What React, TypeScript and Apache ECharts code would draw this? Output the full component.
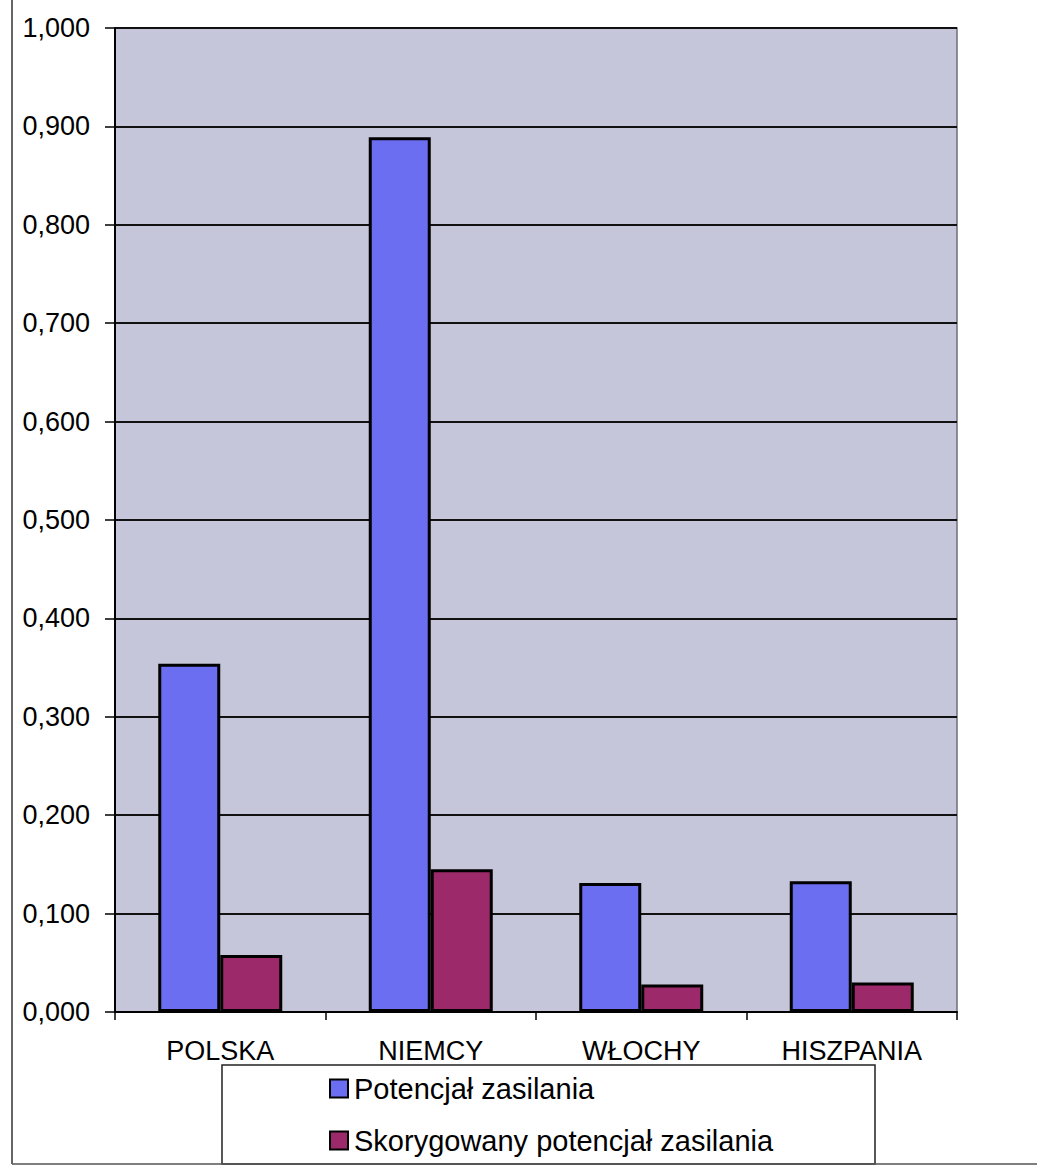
import React, { useEffect, useRef } from "react";
import * as echarts from "echarts";

const categories = ["POLSKA", "NIEMCY", "WŁOCHY", "HISZPANIA"];
const potencjal = [0.354, 0.889, 0.131, 0.133];
const skorygowany = [0.058, 0.145, 0.028, 0.030];
const seriesNames = ["Potencjał zasilania", "Skorygowany potencjał zasilania"];

const FONT = "'Liberation Sans', Arial, sans-serif";

export default function App() {
  const ref = useRef<HTMLDivElement>(null);
  useEffect(() => {
    if (!ref.current) return;
    const chart = echarts.init(ref.current, undefined, { renderer: "svg" });
    chart.setOption({
      animation: false,
      backgroundColor: "#ffffff",
      textStyle: { fontFamily: FONT },
      grid: {
        left: 115,
        right: 80,
        top: 28,
        bottom: 157,
        show: true,
        backgroundColor: "#c6c6da",
        borderColor: "#6f6f7a",
        borderWidth: 1.5,
      },
      xAxis: {
        type: "category",
        data: categories,
        axisLine: { lineStyle: { color: "#000", width: 2 } },
        axisTick: { show: true, length: 8, interval: 0, lineStyle: { color: "#000", width: 1.5 } },
        axisLabel: { fontSize: 27, color: "#000", margin: 25, fontFamily: FONT, interval: 0 },
      },
      yAxis: {
        type: "value",
        min: 0,
        max: 1,
        interval: 0.1,
        axisLine: { show: true, lineStyle: { color: "#000", width: 2 } },
        axisTick: { show: true, length: 10, lineStyle: { color: "#000", width: 1.5 } },
        axisLabel: {
          fontSize: 27,
          color: "#000",
          margin: 25,
          fontFamily: FONT,
          formatter: (v: number) => v.toFixed(3).replace(".", ","),
        },
        splitLine: { show: true, lineStyle: { color: "#111", width: 2 } },
      },
      legend: {
        orient: "vertical",
        left: 324,
        top: 1069,
        itemWidth: 18,
        itemHeight: 18,
        itemGap: 23,
        icon: "rect",
        textStyle: { fontSize: 29, lineHeight: 29, color: "#000", fontFamily: FONT, padding: [0, 0, 0, 1] },
        data: seriesNames,
      },
      graphic: [
        {
          type: "rect",
          shape: { x: 222, y: 1065, width: 653, height: 99 },
          style: { fill: "#fff", stroke: "#222", lineWidth: 1.5 },
          z: -1,
        },
        {
          type: "line",
          shape: { x1: 12, y1: 0, x2: 12, y2: 1164 },
          style: { stroke: "#333", lineWidth: 1.5 },
        },
        {
          type: "line",
          shape: { x1: 12, y1: 1164, x2: 1037, y2: 1164 },
          style: { stroke: "#555", lineWidth: 1.5 },
        },
      ],
      series: [
        {
          name: seriesNames[0],
          type: "bar",
          data: potencjal,
          barWidth: 62,
          barGap: "0%",
          itemStyle: { color: "#6b6ef0", borderColor: "#000", borderWidth: 3 },
        },
        {
          name: seriesNames[1],
          type: "bar",
          data: skorygowany,
          barWidth: 62,
          barGap: "0%",
          itemStyle: { color: "#9c2a6a", borderColor: "#000", borderWidth: 3 },
        },
      ],
    });
    return () => chart.dispose();
  }, []);
  return (
    <div
      ref={ref}
      style={{ position: "absolute", left: 0, top: 0, width: 1037, height: 1169 }}
    />
  );
}
